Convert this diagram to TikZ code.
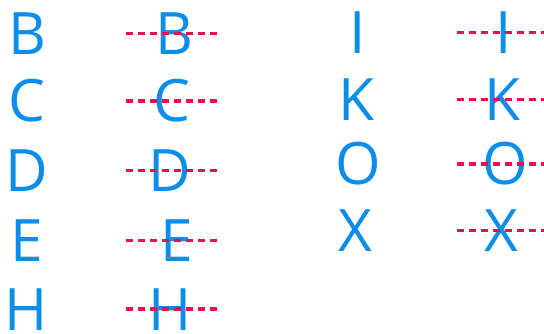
\documentclass[tikz,border=0pt]{standalone}
\usepackage{fontspec}
\newfontfamily\letterfont{Open Sans}
\usepackage{tikz}
\usetikzlibrary{positioning,calc}
\definecolor{letterblue}{RGB}{10,142,234}
\definecolor{strikered}{RGB}{234,16,80}
\tikzset{
  glyph/.style={inner sep=0pt, text=letterblue, text height=42pt, text depth=0pt,
                font=\letterfont\fontsize{58.5}{60}\selectfont},
  strike/.style={draw=strikered, line width=3.2pt, dash pattern=on 6.5pt off 5.5pt},
}

\begin{document}
\begin{tikzpicture}[x=1pt,y=-1pt]
\useasboundingbox (0,0) rectangle (544,334);
% ends of the strike lines
\coordinate (L0) at (126,0);
\coordinate (L1) at (217,0);
\coordinate (R0) at (457,0);
\coordinate (R1) at (550,0);
% left block
\node[glyph] (B1) at (27,33.5)    {B};
\node[glyph] (C1) at (27,101)     {C};
\node[glyph] (D1) at (27,170.5)   {D};
\node[glyph] (E1) at (27,240.5)   {E};
\node[glyph] (H1) at (26.5,309)   {H};
\node[glyph] (B2) at (174.5,33.5) {B};
\node[glyph] (C2) at (172,101)    {C};
\node[glyph] (D2) at (169.5,170.5){D};
\node[glyph] (E2) at (177,240.5)  {E};
\node[glyph] (H2) at (170,309)    {H};
% right block
\node[glyph] (I1) at (358,32.5)   {I};
\node[glyph] (K1) at (356,99.5)   {K};
\node[glyph] (O1) at (358,164)    {O};
\node[glyph] (X1) at (355,230.5)  {X};
\node[glyph] (I2) at (504,32.5)   {I};
\node[glyph] (K2) at (502,99.5)   {K};
\node[glyph] (O2) at (505,164)    {O};
\node[glyph] (X2) at (501,230.5)  {X};
\draw[strike] (B2 -| L0) -- (B2 -| L1);
\draw[strike] (C2 -| L0) -- (C2 -| L1);
\draw[strike] (D2 -| L0) -- (D2 -| L1);
\draw[strike] (E2 -| L0) -- (E2 -| L1);
\draw[strike] (H2 -| L0) -- (H2 -| L1);
\draw[strike] (I2 -| R0) -- (I2 -| R1);
\draw[strike] (K2 -| R0) -- (K2 -| R1);
\draw[strike] (O2 -| R0) -- (O2 -| R1);
\draw[strike] (X2 -| R0) -- (X2 -| R1);
\end{tikzpicture}
\end{document}
